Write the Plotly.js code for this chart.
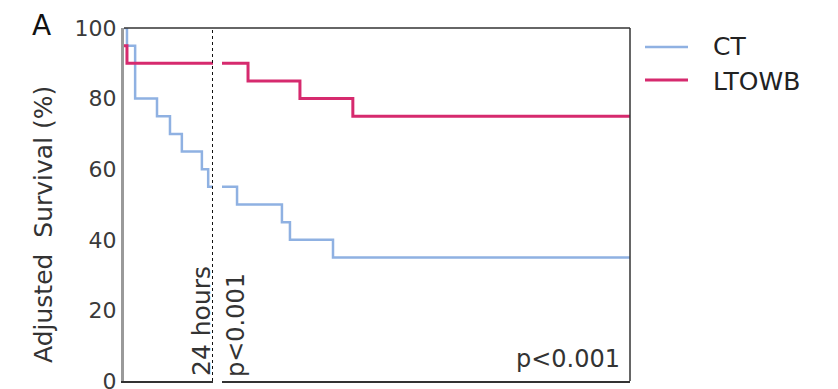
<!DOCTYPE html>
<html>
<head>
<meta charset="utf-8">
<script src="https://cdn.plot.ly/plotly-3.0.1.min.js"></script>
<style>html,body{margin:0;padding:0;background:#fff;}#chart{width:838px;height:389px;}</style>
</head>
<body>
<div id="chart"></div>
<script>
// ---- data ----
// first segment: hours 0..24 ; second segment: days 1..30
const ctHoursX = [0, 0.8, 3.0, 8.9, 12.4, 15.6, 21.0, 22.7, 24];
const ctHoursY = [100, 95, 80, 75, 70, 65, 60, 55, 55];
const ltHoursX = [0, 0.8, 24];
const ltHoursY = [95, 90, 90];
const ctDaysX = [1, 2.07, 5.26, 5.83, 8.89, 30];
const ctDaysY = [55, 50, 45, 40, 35, 35];
const ltDaysX = [1, 2.85, 6.54, 10.3, 30];
const ltDaysY = [90, 85, 80, 75, 75];
const yTicks = [0, 20, 40, 60, 80, 100];
const seriesNames = ['CT', 'LTOWB'];
const seriesColors = ['#8fb1e2', '#d62a6e'];
const cutHours = 24;

const FONT = 'DejaVu Sans, Liberation Sans, Arial, sans-serif';

const traces = [
  {x: ctHoursX, y: ctHoursY, xaxis: 'x', yaxis: 'y', mode: 'lines', line: {shape: 'hv', color: seriesColors[0], width: 2.5}, name: seriesNames[0], showlegend: false},
  {x: ltHoursX, y: ltHoursY, xaxis: 'x', yaxis: 'y', mode: 'lines', line: {shape: 'hv', color: seriesColors[1], width: 3}, name: seriesNames[1], showlegend: false},
  {x: ctDaysX, y: ctDaysY, xaxis: 'x2', yaxis: 'y', mode: 'lines', line: {shape: 'hv', color: seriesColors[0], width: 2.5}, name: seriesNames[0], showlegend: false},
  {x: ltDaysX, y: ltDaysY, xaxis: 'x2', yaxis: 'y', mode: 'lines', line: {shape: 'hv', color: seriesColors[1], width: 3}, name: seriesNames[1], showlegend: false}
];

const W = 506, H = 353; // plot area in px
const px = v => (v - 124) / W;
const py = v => (381 - v) / H;

const layout = {
  width: 838, height: 389,
  margin: {l: 124, r: 208, t: 28, b: 8},
  paper_bgcolor: '#fff', plot_bgcolor: '#fff',
  showlegend: false,
  font: {family: FONT, color: '#333'},
  xaxis: {domain: [0, px(213)], range: [0, 24], showline: true, linecolor: '#333', linewidth: 1.5,
          showticklabels: false, ticks: '', showgrid: false, zeroline: false, fixedrange: true},
  xaxis2: {domain: [px(222), 1], range: [1, 30], anchor: 'y', showline: true, linecolor: '#333', linewidth: 1.5,
           showticklabels: false, ticks: '', showgrid: false, zeroline: false},
  yaxis: {range: [0, 100], tickvals: yTicks, ticktext: yTicks.map(String), showline: true, linecolor: '#9a9a9a', linewidth: 3,
          ticks: '', showgrid: false, zeroline: false, ticklabeloverflow: 'allow',
          tickfont: {family: FONT, size: 22, color: '#3a3a3a'}},
  shapes: [
    {type: 'line', xref: 'paper', yref: 'paper', x0: 0, x1: 1, y0: 1, y1: 1, line: {color: '#333', width: 1.5}},
    {type: 'line', xref: 'paper', yref: 'paper', x0: 1, x1: 1, y0: 0, y1: 1, line: {color: '#333', width: 1.5}},
    {type: 'line', xref: 'x', yref: 'paper', x0: cutHours, x1: cutHours, y0: 0, y1: 1, line: {color: '#111', width: 2, dash: 'dot'}},
    {type: 'line', xref: 'paper', yref: 'paper', x0: px(645), x1: px(688), y0: py(47), y1: py(47), line: {color: seriesColors[0], width: 2.5}},
    {type: 'line', xref: 'paper', yref: 'paper', x0: px(645), x1: px(688), y0: py(80), y1: py(80), line: {color: seriesColors[1], width: 3}}
  ],
  annotations: [
    {text: 'A', xref: 'paper', yref: 'paper', x: px(41), y: py(26), xanchor: 'center', yanchor: 'middle', showarrow: false, font: {family: FONT, size: 28, color: '#111'}},
    {text: 'Adjusted\u00a0 Survival (%)', xref: 'paper', yref: 'paper', x: px(43), y: py(225), xanchor: 'center', yanchor: 'middle', textangle: -90, showarrow: false, font: {family: FONT, size: 25, color: '#333'}},
    {text: '24 hours', xref: 'paper', yref: 'paper', x: px(201), y: py(321), xanchor: 'center', yanchor: 'middle', textangle: -90, showarrow: false, font: {family: FONT, size: 25, color: '#333'}},
    {text: 'p<0.001', xref: 'paper', yref: 'paper', x: px(236), y: py(325), xanchor: 'center', yanchor: 'middle', textangle: -90, showarrow: false, font: {family: FONT, size: 24, color: '#333'}},
    {text: 'p<0.001', xref: 'paper', yref: 'paper', x: px(568), y: py(359), xanchor: 'center', yanchor: 'middle', showarrow: false, font: {family: FONT, size: 24, color: '#333'}},
    {text: seriesNames[0], xref: 'paper', yref: 'paper', x: px(711), y: py(46), xanchor: 'left', yanchor: 'middle', showarrow: false, font: {family: FONT, size: 25, color: '#222'}},
    {text: seriesNames[1], xref: 'paper', yref: 'paper', x: px(711), y: py(81), xanchor: 'left', yanchor: 'middle', showarrow: false, font: {family: FONT, size: 25, color: '#222'}}
  ]
};

Plotly.newPlot('chart', traces, layout, {staticPlot: true, displayModeBar: false});
</script>
</body>
</html>
